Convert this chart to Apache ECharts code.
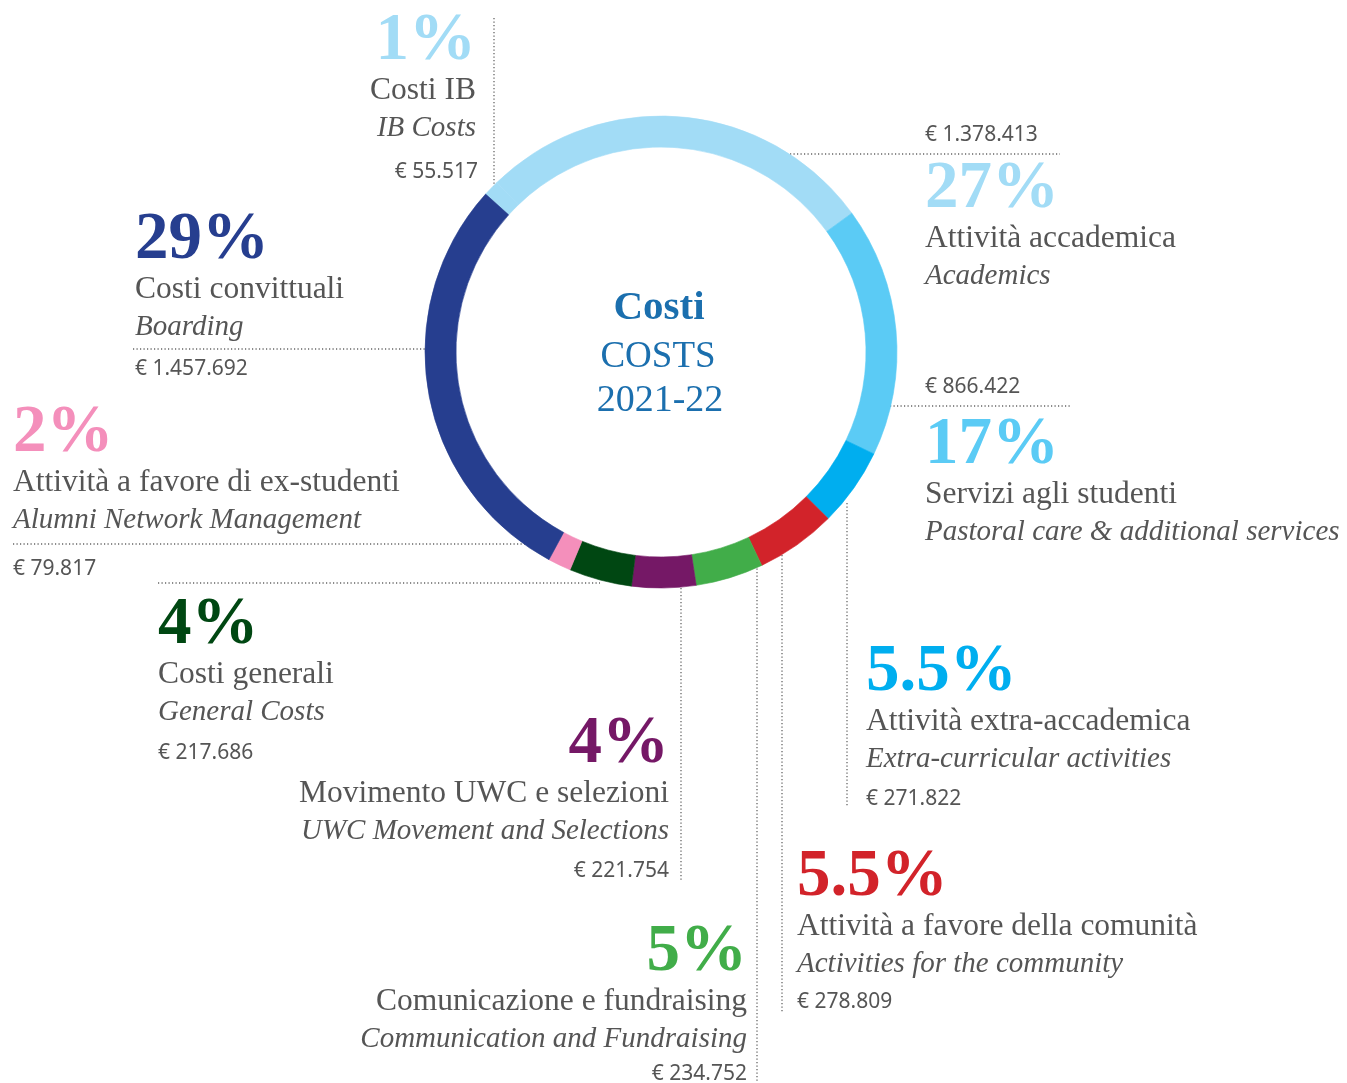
<!DOCTYPE html>
<html>
<head>
<meta charset="utf-8">
<script src="https://cdn.jsdelivr.net/npm/echarts@6/dist/echarts.min.js"></script>
<style>
  html, body { margin: 0; padding: 0; background: #fff; }
  #chart { width: 1347px; height: 1083px; }
</style>
</head>
<body>
<div id="chart"></div>
<script>
// --- data ---
const itNames = [
  "Costi IB", "Attività accademica", "Servizi agli studenti", "Attività extra-accademica",
  "Attività a favore della comunità", "Comunicazione e fundraising", "Movimento UWC e selezioni",
  "Costi generali", "Attività a favore di ex-studenti", "Costi convittuali"
]
const enNames = [
  "IB Costs", "Academics", "Pastoral care & additional services", "Extra-curricular activities",
  "Activities for the community", "Communication and Fundraising", "UWC Movement and Selections",
  "General Costs", "Alumni Network Management", "Boarding"
]
const amounts = [55517, 1378413, 866422, 271822, 278809, 234752, 221754, 217686, 79817, 1457692]
const pctLabels = ["1%", "27%", "17%", "5.5%", "5.5%", "5%", "4%", "4%", "2%", "29%"]
const colors = [
  "#a2dcf6", "#a2dcf6", "#5bcbf5", "#00aeef", "#d2232a",
  "#41ad49", "#751866", "#004712", "#f48fbb", "#263e8f"
]

// --- label layout (baselines), amount above or below ---
const layout = [
  { x: 476, align: "right", pct: 64, amt: 180, amtX: 478 },
  { x: 925, align: "left", pct: 212, amt: 143 },
  { x: 925, align: "left", pct: 468, amt: 395 },
  { x: 866, align: "left", pct: 695, amt: 807 },
  { x: 797, align: "left", pct: 900, amt: 1010 },
  { x: 747, align: "right", pct: 975, amt: 1082 },
  { x: 669, align: "right", pct: 767, amt: 879 },
  { x: 158, align: "left", pct: 648, amt: 761 },
  { x: 13, align: "left", pct: 456, amt: 577 },
  { x: 135, align: "left", pct: 263, amt: 377 }
]
// dotted leader lines [x1, y1, x2, y2]
const leaders = [
  [494, 18, 494, 190],
  [783, 154, 1060, 154],
  [890, 406, 1070, 406],
  [847, 503, 847, 806],
  [782, 548, 782, 1012],
  [757, 565, 757, 1083],
  [681, 588, 681, 882],
  [158, 583, 600, 583],
  [13, 544, 545, 544],
  [133, 349, 428, 349]
]

const SERIF = '"Liberation Serif", serif'
const SANS = '"Noto Sans", sans-serif'
const GREY = "#555555"

function fmtEuro(v) {
  return "€ " + v.toString().replace(/\B(?=(\d{3})+(?!\d))/g, ".")
}

function txt(text, x, baseline, size, font, weight, style, color, align, k) {
  return {
    type: "text",
    silent: true,
    style: {
      text: text,
      x: x,
      y: baseline - size * k,
      fill: color,
      fontSize: size,
      fontFamily: font,
      fontWeight: weight,
      fontStyle: style,
      align: align,
      verticalAlign: "middle"
    }
  }
}

const graphics = []
leaders.forEach((l) => {
  graphics.push({
    type: "line",
    silent: true,
    shape: { x1: l[0], y1: l[1], x2: l[2], y2: l[3] },
    style: { stroke: "#666", lineWidth: 1.3, lineDash: [1.2, 2.3] },
    z: 1
  })
})

layout.forEach((p, i) => {
  graphics.push(txt(pctLabels[i], p.x, p.pct, 67, SERIF, "bold", "normal", colors[i], p.align, 0.34))
  graphics.push(txt(itNames[i], p.x, p.pct + 37, 31.5, SERIF, "normal", "normal", GREY, p.align, 0.34))
  graphics.push(txt(enNames[i], p.x, p.pct + 74, 29, SERIF, "normal", "italic", GREY, p.align, 0.34))
  graphics.push(txt(fmtEuro(amounts[i]), p.amtX || p.x, p.amt, 21, SANS, "normal", "normal", GREY, p.align, 0.39))
})

// centre title
graphics.push(txt("Costi", 659, 322, 41, SERIF, "bold", "normal", "#1b6fae", "center", 0.34))
graphics.push(txt("COSTS", 658, 370, 37, SERIF, "normal", "normal", "#1b6fae", "center", 0.34))
graphics.push(txt("2021-22", 660, 414, 38, SERIF, "normal", "normal", "#1b6fae", "center", 0.34))

const chart = echarts.init(document.getElementById("chart"), null, { renderer: "canvas" })
chart.setOption({
  animation: false,
  backgroundColor: "#ffffff",
  series: [{
    type: "pie",
    center: [661, 352],
    radius: [205, 236],
    startAngle: 138,
    clockwise: true,
    silent: true,
    label: { show: false },
    labelLine: { show: false },
    z: 2,
    // same-colour border hides anti-aliasing seams between slices
    data: amounts.map((v, i) => ({
      name: itNames[i],
      value: v,
      itemStyle: { color: colors[i], borderColor: colors[i], borderWidth: 0.6 }
    }))
  }],
  graphic: graphics
})
</script>
</body>
</html>
